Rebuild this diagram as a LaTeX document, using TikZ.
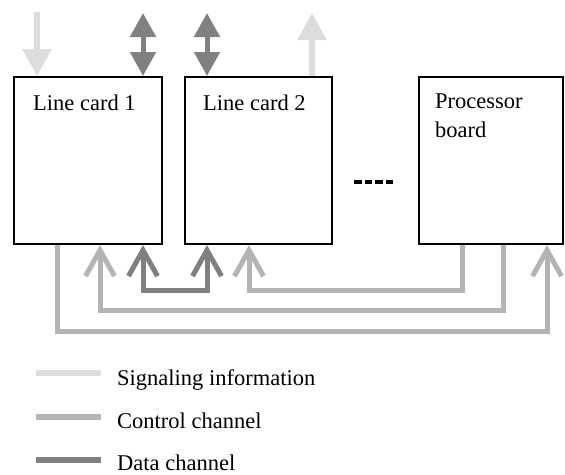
\documentclass[tikz,border=0pt]{standalone}
\usepackage{fontspec}
\setmainfont{Liberation Serif}
\usetikzlibrary{arrows.meta}
\definecolor{sigcol}{HTML}{DDDDDD}
\definecolor{ctrlcol}{HTML}{B4B4B4}
\definecolor{datacol}{HTML}{808080}

\begin{document}
\begin{tikzpicture}[x=1pt,y=-1pt,
  card/.style={draw=black, line width=2pt, inner sep=0pt, fill=white},
  lbl/.style={inner sep=0pt, anchor=base west, font=\fontsize{22.5}{27}\selectfont},
  sigline/.style={draw=sigcol, line width=6pt},
  ctrlline/.style={draw=ctrlcol, line width=5pt},
  dataline/.style={draw=datacol, line width=5pt},
  fattip/.style={-{Triangle[length=27pt,width=28pt]}},
  datatips/.style={{Triangle[length=24pt,width=25pt]}-{Triangle[length=24pt,width=25pt]}},
  barb/.style={-{Straight Barb[length=26pt,width=29pt]}},
  twobarb/.style={{Straight Barb[length=26pt,width=29pt]}-{Straight Barb[length=26pt,width=29pt]}},
  legline/.style={line width=6.5pt}
]
\useasboundingbox (0,0) rectangle (565,474);

% the three boards
\node[card, minimum width=148pt, minimum height=167pt] (lc1) at (88,160.5) {};
\node[card, minimum width=147pt, minimum height=167pt] (lc2) at (258,160.5) {};
\node[card, minimum width=144pt, minimum height=167pt] (pb)  at (490.5,160.5) {};

\node[lbl] (lc1t) at (33,110) {Line card 1};
\node[lbl] (lc2t) at (203,110) {Line card 2};
\node[lbl] (pbt1) at (435,108) {Processor};
\node[lbl] (pbt2) at (435,137) {board};

% ellipsis between the line cards and the processor board
\coordinate (dotsA) at (354,182);
\coordinate (dotsB) at (393,182);
\draw[line width=4pt, dash pattern=on 7.5pt off 3pt] (dotsA) -- (dotsB);

% external connections at the top
\coordinate (sigin)  at (37,12);
\coordinate (dat1)   at (143,13);
\coordinate (dat2)   at (207,13);
\coordinate (sigout) at (312,13);
\draw[sigline, fattip] (sigin) -- (lc1.north -| sigin);
\draw[dataline, datatips] (dat1) -- (lc1.north -| dat1);
\draw[dataline, datatips] (dat2) -- (lc2.north -| dat2);
\draw[sigline, fattip] (lc2.north -| sigout) -- (sigout);

% internal buses below the boards
\coordinate (ctlA1) at (57,331);
\coordinate (ctlA2) at (547,331);
\draw[ctrlline, barb] (lc1.south -| ctlA1) -- (ctlA1) -- (ctlA2) -- (pb.south -| ctlA2);

\coordinate (ctlB1) at (503,310);
\coordinate (ctlB2) at (100,310);
\draw[ctrlline, barb] (pb.south -| ctlB1) -- (ctlB1) -- (ctlB2) -- (lc1.south -| ctlB2);

\coordinate (ctlC1) at (462,290);
\coordinate (ctlC2) at (249,290);
\draw[ctrlline, barb] (pb.south -| ctlC1) -- (ctlC1) -- (ctlC2) -- (lc2.south -| ctlC2);

\coordinate (datL) at (143,290);
\coordinate (datR) at (207,290);
\draw[dataline, twobarb] (lc1.south -| datL) -- (datL) -- (datR) -- (lc2.south -| datR);

% legend
\coordinate (lgS1) at (36,373);  \coordinate (lgS2) at (101,373);
\coordinate (lgC1) at (36,417);  \coordinate (lgC2) at (101,417);
\coordinate (lgD1) at (36,460);  \coordinate (lgD2) at (101,460);
\draw[legline, draw=sigcol]  (lgS1) -- (lgS2);
\draw[legline, draw=ctrlcol] (lgC1) -- (lgC2);
\draw[legline, draw=datacol] (lgD1) -- (lgD2);
\node[lbl] (lgSt) at (117,385) {Signaling information};
\node[lbl] (lgCt) at (117,428) {Control channel};
\node[lbl, text depth=0pt] (lgDt) at (117,470) {Data channel};
\end{tikzpicture}
\end{document}
